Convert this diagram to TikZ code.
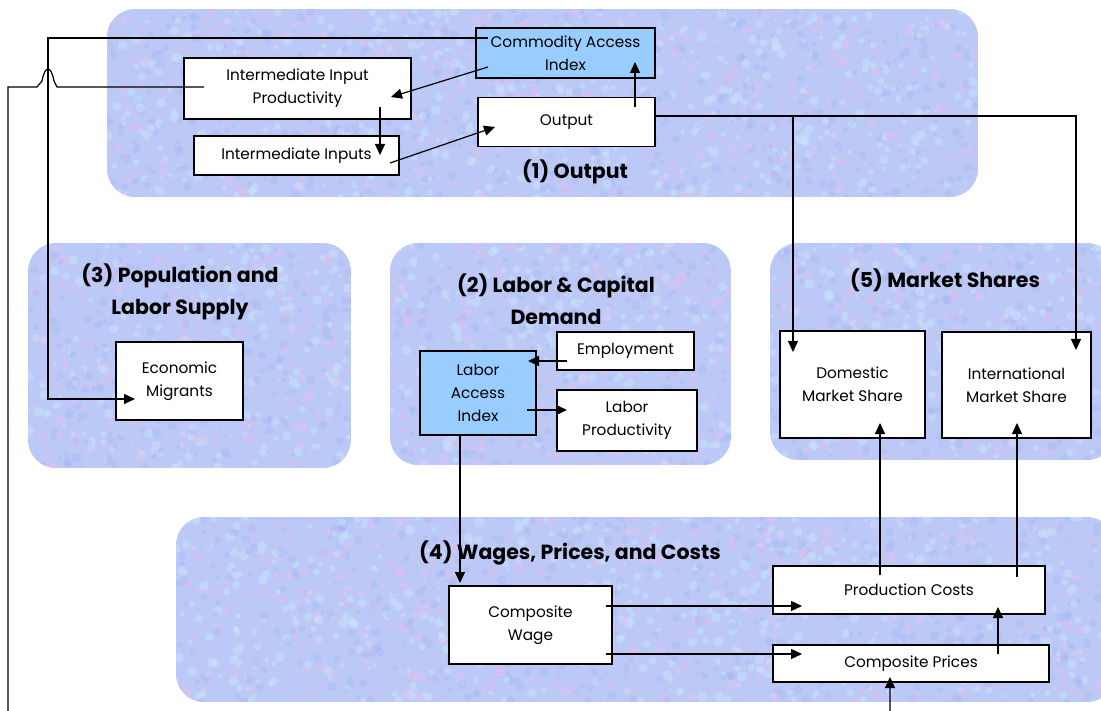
\documentclass[tikz,border=0pt]{standalone}
\usepackage{fontspec}
\setmainfont{Poppins}
\usetikzlibrary{arrows.meta,calc}
\definecolor{bgbase}{RGB}{188,201,247}
\definecolor{bgpink}{RGB}{228,190,238}
\definecolor{bgcyan}{RGB}{200,232,252}
\definecolor{bgblue}{RGB}{160,178,242}
\definecolor{boxblue}{RGB}{153,204,255}
\newcommand\dgbody{\fontsize{15.3}{23}\selectfont}
\newcommand\dgtitle{\fontsize{20.5}{32}\selectfont\bfseries}
\newcommand\dgbg[5]{%
  \begin{scope}
    \clip[rounded corners=28pt] (#1,#2) rectangle (#3,#4);
    \fill[bgbase] (#1,#2) rectangle (#3,#4);
    \foreach \k in {1,...,#5}{%
      \pgfmathsetmacro\xx{#1+rnd*(#3-#1)}%
      \pgfmathsetmacro\yy{#2+rnd*(#4-#2)}%
      \pgfmathsetmacro\rr{1.5+rnd*3.5}%
      \pgfmathtruncatemacro\cc{3*rnd}%
      \ifcase\cc
        \fill[bgpink,opacity=.4] (\xx,\yy) circle [radius=\rr pt];
      \or
        \fill[bgcyan,opacity=.45] (\xx,\yy) circle [radius=\rr pt];
      \or
        \fill[bgblue,opacity=.3] (\xx,\yy) circle [radius=\rr pt];
      \fi
    }
  \end{scope}}
\begin{document}
\begin{tikzpicture}[x=1pt,y=-1pt,
  box/.style={draw=black,line width=1.4pt,fill=white,inner sep=0pt,align=center,font=\dgbody},
  title/.style={inner sep=0pt,align=center,font=\dgtitle},
  conn/.style={line width=1.2pt,-{Triangle[length=11pt,width=10pt]}}]
\useasboundingbox (0,0) rectangle (1101,711);
\pgfmathsetseed{7}
% group backgrounds
\dgbg{107}{9}{978}{197}{1600}
\dgbg{28}{243}{351}{468}{720}
\dgbg{390}{243}{731}{465}{740}
\dgbg{770}{243}{1115}{460}{740}
\dgbg{176}{517}{1115}{702}{1700}
% titles
\node[title] (t1) at (575,172) {(1) Output};
\node[title] (t3) at (180,292) {(3) Population and\\Labor Supply};
\node[title] (t2) at (556,299) {(2) Labor \& Capital\\Demand};
\node[title] (t5) at (945,280) {(5) Market Shares};
\node[title] (t4) at (570,553) {(4) Wages, Prices, and Costs};
% boxes
\node[box,fill=boxblue,minimum width=179pt,minimum height=50pt] (cai) at (565.5,53) {Commodity Access\\Index};
\node[box,minimum width=227pt,minimum height=61pt] (iip) at (297.5,88.5) {Intermediate Input\\Productivity};
\node[box,minimum width=205pt,minimum height=39pt] (ii) at (296.5,155.5) {Intermediate Inputs};
\node[box,minimum width=177pt,minimum height=49pt] (out) at (566.5,122) {Output};
\node[box,minimum width=127pt,minimum height=78pt] (em) at (179.5,381) {Economic\\Migrants};
\node[box,fill=boxblue,minimum width=116pt,minimum height=84pt] (lai) at (478,393) {Labor\\Access\\Index};
\node[box,minimum width=137pt,minimum height=38pt] (emp) at (625.5,351) {Employment};
\node[box,minimum width=140pt,minimum height=61pt] (lp) at (627,420.5) {Labor\\Productivity};
\node[box,minimum width=145pt,minimum height=107pt] (dms) at (852.5,384.5) {Domestic\\Market Share};
\node[box,minimum width=149pt,minimum height=106pt] (ims) at (1016.5,385) {International\\Market Share};
\node[box,minimum width=163pt,minimum height=78pt] (cw) at (530.5,625) {Composite\\Wage};
\node[box,minimum width=272pt,minimum height=48pt] (pc) at (909,590) {Production Costs};
\node[box,minimum width=276pt,minimum height=37pt] (cp) at (911,663.5) {Composite Prices};
% helper coordinates
\coordinate (jl) at (48,38);
\coordinate (hopR) at (57,87);
\coordinate (hopL) at (37,87);
\coordinate (lowL) at (8,716);
% connectors
\draw[conn] ($(cai)+(-77.5,14)$) -- ($(iip)+(93.5,8.5)$);
\draw[conn] ($(iip)+(82.5,18.5)$) -- ($(ii)+(83.5,-0.5)$);
\draw[conn] ($(ii)+(93.5,7.5)$) -- ($(out)+(-71.5,5)$);
\draw[conn] ($(out)+(68.5,-15)$) -- ($(cai)+(69.5,9)$);
\draw[conn] ($(out)+(88.5,-6)$) -| ($(dms)+(-59.5,-32.5)$);
\draw[conn] ($(out)+(88.5,-6)$) -| ($(ims)+(59.5,-35)$);
\draw[conn] ($(cai)+(-77.5,-15)$) -- (jl) |- ($(em)+(-44.5,18)$);
\draw[conn] ($(iip)+(-93.5,-1.5)$) -- (hopR) -- (54,81) .. controls (51,65) and (45,65) .. (42,81) -- (hopL) -| (lowL) -| ($(cp)+(-21,13.5)$);
\draw[conn] ($(emp)+(-58.5,10)$) -- ($(lai)+(50,-32)$);
\draw[conn] ($(lai)+(49,17)$) -- ($(lp)+(-60,-10.5)$);
\draw[conn] ($(lai)+(-18,43)$) -- ($(cw)+(-70.5,-42)$);
\draw[conn] ($(cw)+(75.5,-19)$) -- ($(pc)+(-107,16)$);
\draw[conn] ($(cw)+(75.5,29)$) -- ($(cp)+(-109,-9.5)$);
\draw[conn] ($(cp)+(87,-9.5)$) -- ($(pc)+(89,17)$);
\draw[conn] ($(pc)+(-29,-15)$) -- ($(dms)+(27.5,38.5)$);
\draw[conn] ($(pc)+(108,-13)$) -- ($(ims)+(0.5,38)$);
\end{tikzpicture}
\end{document}
